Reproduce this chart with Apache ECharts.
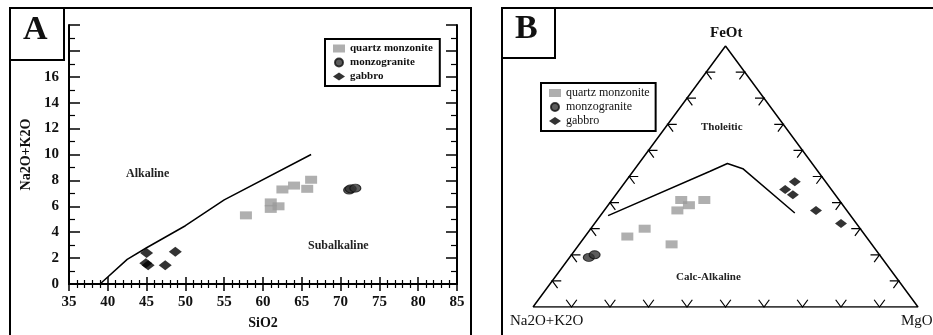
<!DOCTYPE html>
<html><head><meta charset="utf-8">
<script src="https://cdn.jsdelivr.net/npm/echarts@6/dist/echarts.min.js"></script>
<style>html,body{margin:0;padding:0;background:#fff}#c{width:933px;height:335px}</style>
</head><body><div id="c"></div>
<script>
// ---- Panel A: TAS (SiO2 vs Na2O+K2O) ----
const xTicksA = [35,40,45,50,55,60,65,70,75,80,85];
const yTicksA = [0,2,4,6,8,10,12,14,16];
const boundaryA = [[39,0],[42.5,1.9],[45,2.8],[50,4.5],[55,6.5],[66.2,10]];
const qmA = [[57.8,5.3],[61.0,6.3],[61.0,5.8],[62.0,6.0],[62.5,7.3],[64.0,7.6],[65.7,7.35],[66.2,8.05]];
const mgA = [[71.1,7.25],[71.3,7.35],[71.9,7.4]];
const gbA = [[45.0,2.4],[48.7,2.5],[44.9,1.6],[45.2,1.45],[47.4,1.45]];

// ---- Panel B: AFM ternary, values as [Na2O+K2O, FeOt, MgO] % ----
const qmB = [[62,27,11],[56,30,14],[52,24,24],[44,37,19],[41,41,18],[40,39,21],[35,41,24]];
const mgB = [[76,19,5],[74,20,6]];
const gbB = [[8,48,44],[12,45,43],[11,43,46],[8,37,55],[4,32,64]];
const boundaryB = [[63,35,2],[28,52,20],[22,55,23],[19,53,28],[14,36,50]];
const ternTicks = [10,20,30,40,50,60,70,80,90];

const serif = '"Liberation Serif","DejaVu Serif",serif';
function tern(p){ return [p[2]/100 + p[1]/200, p[1]/100]; }

const chart = echarts.init(document.getElementById('c'));

const tickItems = [];
ternTicks.forEach(t => {
  const s = t/100;
  tickItems.push([0, s]);
  tickItems.push([1, s]);
  tickItems.push([2, s]);
});

const qmStyle = {color:'#9b9b9b'};
const option = {
  animation:false,
  textStyle:{fontFamily:serif},
  grid:[
    {left:69, top:25, width:388, height:264},
    {left:533, top:46, width:385, height:261}
  ],
  xAxis:[
    {gridIndex:0, type:'value', min:35, max:85, interval:5, position:'bottom',
     axisLine:{lineStyle:{color:'#000',width:2}},
     axisTick:{inside:true,length:7,lineStyle:{color:'#000',width:1.5}},
     minorTick:{show:true,splitNumber:5,length:4,lineStyle:{color:'#000',width:1.2}},
     splitLine:{show:false},
     axisLabel:{color:'#111',fontFamily:serif,fontWeight:'bold',fontSize:15,margin:11,
       formatter:v=>xTicksA.includes(v)?String(v):''},
     name:'SiO2', nameLocation:'middle', nameGap:32,
     nameTextStyle:{color:'#111',fontFamily:serif,fontWeight:'bold',fontSize:14}},
    {gridIndex:0, type:'value', min:35, max:85, interval:5, position:'top',
     axisLine:{lineStyle:{color:'#000',width:2}},
     axisTick:{inside:true,length:7,lineStyle:{color:'#000',width:1.5}},
     minorTick:{show:true,splitNumber:5,length:4,lineStyle:{color:'#000',width:1.2}},
     splitLine:{show:false}, axisLabel:{show:false}},
    {gridIndex:1, type:'value', min:0, max:1, show:false},
  ],
  yAxis:[
    {gridIndex:0, type:'value', min:0, max:20, interval:2, position:'left',
     axisLine:{show:true,lineStyle:{color:'#000',width:2}},
     axisTick:{show:true,inside:true,length:11,lineStyle:{color:'#000',width:1.5}},
     minorTick:{show:true,splitNumber:2,length:6,lineStyle:{color:'#000',width:1.2}},
     splitLine:{show:false},
     axisLabel:{color:'#111',fontFamily:serif,fontWeight:'bold',fontSize:15,margin:10,
       formatter:v=>yTicksA.includes(v)?String(v):''},
     name:'Na2O+K2O', nameLocation:'middle', nameGap:36,
     nameTextStyle:{color:'#111',fontFamily:serif,fontWeight:'bold',fontSize:14}},
    {gridIndex:0, type:'value', min:0, max:20, interval:2, position:'right',
     axisLine:{show:true,lineStyle:{color:'#000',width:2}},
     axisTick:{show:true,inside:true,length:11,lineStyle:{color:'#000',width:1.5}},
     minorTick:{show:true,splitNumber:2,length:6,lineStyle:{color:'#000',width:1.2}},
     splitLine:{show:false}, axisLabel:{show:false}},
    {gridIndex:1, type:'value', min:0, max:1, show:false},
  ],
  legend:[
    {left:325, top:39, orient:'vertical', itemWidth:12, itemHeight:8, itemGap:3,
     padding:[4,7,4,8], borderColor:'#000', borderWidth:2, backgroundColor:'#fff',
     textStyle:{fontFamily:serif,fontWeight:'bold',fontSize:11,color:'#111'},
     data:['quartz monzonite','monzogranite','gabbro']},
    {left:541, top:83, orient:'vertical', itemWidth:12, itemHeight:8, itemGap:2,
     padding:[4,6,4,8], borderColor:'#000', borderWidth:2, backgroundColor:'#fff',
     textStyle:{fontFamily:serif,fontSize:12,color:'#111'},
     data:['quartz monzonite','monzogranite','gabbro']}
  ],
  series:[
    {type:'line', xAxisIndex:0, yAxisIndex:0, data:boundaryA, showSymbol:false, symbol:'none',
     lineStyle:{color:'#000',width:1.5}, silent:true, z:3},
    {name:'quartz monzonite', type:'scatter', xAxisIndex:0, yAxisIndex:0, data:qmA,
     symbol:'rect', symbolSize:[12,8], itemStyle:qmStyle, z:4},
    {name:'monzogranite', type:'scatter', xAxisIndex:0, yAxisIndex:0, data:mgA,
     symbol:'circle', symbolSize:[11,8], itemStyle:{color:'#333',borderColor:'#111',borderWidth:1}, z:4},
    {name:'gabbro', type:'scatter', xAxisIndex:0, yAxisIndex:0, data:gbA,
     symbol:'diamond', symbolSize:[13,10], itemStyle:{color:'#000'}, z:4},

    {type:'line', xAxisIndex:2, yAxisIndex:2,
     data:[[0,0],[1,0],[0.5,1],[0,0]], showSymbol:false, symbol:'none',
     lineStyle:{color:'#000',width:1.5}, silent:true, z:3},
    {type:'line', xAxisIndex:2, yAxisIndex:2, data:boundaryB.map(tern), showSymbol:false, symbol:'none',
     lineStyle:{color:'#000',width:1.5}, silent:true, z:3},
    {type:'custom', xAxisIndex:2, yAxisIndex:2, data:tickItems, silent:true, z:3,
     renderItem:function(params, api){
       const edge = api.value(0), s = api.value(1);
       let v;
       if(edge===0) v=[s,0];
       else if(edge===1) v=[s*0.5, s];
       else v=[1-s*0.5, s];
       const p = api.coord(v);
       const L = 9;
       const lx=api.coord([0,0]), top=api.coord([0.5,1]), rx=api.coord([1,0]);
       function unit(a,b){const dx=b[0]-a[0],dy=b[1]-a[1],l=Math.hypot(dx,dy);return [dx/l,dy/l];}
       let d1,d2;
       if(edge===0){ d1=unit(lx,top); d2=unit(rx,top); }
       else if(edge===1){ d1=[1,0]; d2=unit(top,rx); }
       else { d1=[-1,0]; d2=unit(top,lx); }
       const pts=[[p[0]+d1[0]*L,p[1]+d1[1]*L], p, [p[0]+d2[0]*L,p[1]+d2[1]*L]];
       return {type:'polyline', shape:{points:pts}, style:{stroke:'#000',lineWidth:1.2,fill:null}};
     }},
    {name:'quartz monzonite', type:'scatter', xAxisIndex:2, yAxisIndex:2, data:qmB.map(tern),
     symbol:'rect', symbolSize:[12,8], itemStyle:qmStyle, z:4},
    {name:'monzogranite', type:'scatter', xAxisIndex:2, yAxisIndex:2, data:mgB.map(tern),
     symbol:'circle', symbolSize:[11,8], itemStyle:{color:'#333',borderColor:'#111',borderWidth:1}, z:4},
    {name:'gabbro', type:'scatter', xAxisIndex:2, yAxisIndex:2, data:gbB.map(tern),
     symbol:'diamond', symbolSize:[12,9], itemStyle:{color:'#000'}, z:4}
  ],
  graphic:[
    {type:'rect', shape:{x:10,y:8,width:461,height:340}, style:{fill:null,stroke:'#000',lineWidth:2}, z:0},
    {type:'rect', shape:{x:10,y:8,width:54,height:52}, style:{fill:'#fff',stroke:'#000',lineWidth:2}, z:10},
    {type:'text', left:23, top:13, style:{text:'A',font:'bold 34px '+serif,fill:'#111'}, z:11},
    {type:'text', left:126, top:168, style:{text:'Alkaline',font:'bold 12px '+serif,fill:'#222'}},
    {type:'text', left:308, top:240, style:{text:'Subalkaline',font:'bold 12px '+serif,fill:'#222'}},

    {type:'rect', shape:{x:502,y:8,width:440,height:340}, style:{fill:null,stroke:'#000',lineWidth:2}, z:0},
    {type:'rect', shape:{x:502,y:8,width:53,height:50}, style:{fill:'#fff',stroke:'#000',lineWidth:2}, z:10},
    {type:'text', left:515, top:12, style:{text:'B',font:'bold 34px '+serif,fill:'#111'}, z:11},
    {type:'text', left:710, top:26, style:{text:'FeOt',font:'bold 15px '+serif,fill:'#111'}},
    {type:'text', left:510, top:314, style:{text:'Na2O+K2O',font:'15px '+serif,fill:'#111'}},
    {type:'text', left:901, top:314, style:{text:'MgO',font:'15px '+serif,fill:'#111'}},
    {type:'text', left:701, top:122, style:{text:'Tholeitic',font:'bold 11px '+serif,fill:'#222'}},
    {type:'text', left:676, top:272, style:{text:'Calc-Alkaline',font:'bold 11px '+serif,fill:'#222'}}
  ]
};
chart.setOption(option);
</script>
</body></html>
